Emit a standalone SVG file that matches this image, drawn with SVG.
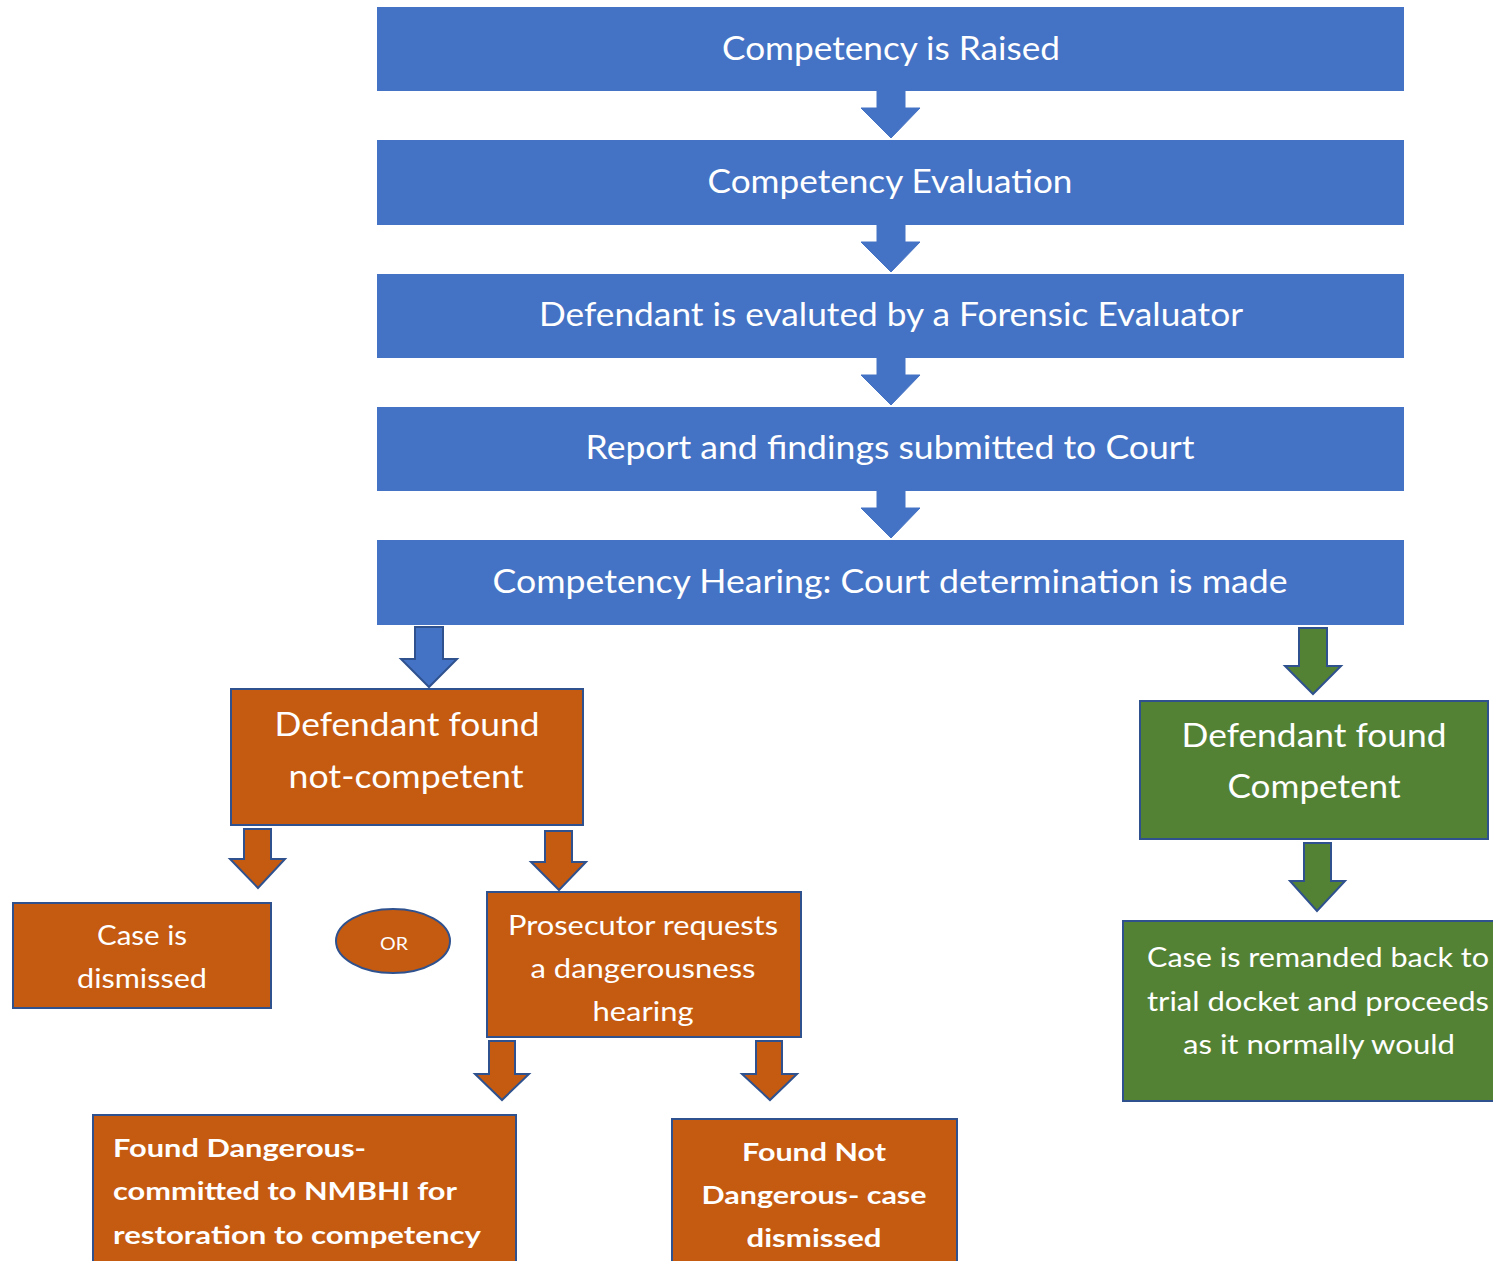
<svg xmlns="http://www.w3.org/2000/svg" width="1493" height="1261" viewBox="0 0 1493 1261">
<style>
.blue{fill:#4472C4}
.orange{fill:#C55A11;stroke:#2F528F;stroke-width:2}
.green{fill:#548235;stroke:#2F528F;stroke-width:2}
.ab{fill:#4472C4;stroke:#4472C4;stroke-width:1}
.ab2{fill:#4472C4;stroke:#2F528F;stroke-width:2}
.ao{fill:#C55A11;stroke:#2F528F;stroke-width:2}
.ag{fill:#548235;stroke:#2F528F;stroke-width:2}
text{font-family:Lato,"Open Sans","Liberation Sans",sans-serif;fill:#fff;text-anchor:middle}
.t1{font-size:32px}
.t2{font-size:26px}
.tb{font-size:25px;font-weight:bold}
.tl{text-anchor:start}
</style>
<rect width="1493" height="1261" fill="#fff"/>
<g id="connectors">
<polygon class="ab" points="877,91 905,91 905,108 920,108 891,138 861,108 877,108"/>
<polygon class="ab" points="877,225 905,225 905,242 920,242 891,272 861,242 877,242"/>
<polygon class="ab" points="877,358 905,358 905,375 920,375 891,405 861,375 877,375"/>
<polygon class="ab" points="877,491 905,491 905,508 920,508 891,538 861,508 877,508"/>
<polygon class="ab2" points="415,627 443,627 443,659 457,659 429,687 401,659 415,659"/>
<polygon class="ag" points="1299,628 1327,628 1327,666 1341,666 1313,694 1285,666 1299,666"/>
<polygon class="ag" points="1304,843 1331,843 1331,881 1345,881 1317,911 1290,881 1304,881"/>
<polygon class="ao" points="244,829 271,829 271,859 285,859 258,888 230,859 244,859"/>
<polygon class="ao" points="545,831 572,831 572,862 586,862 559,890 531,862 545,862"/>
<polygon class="ao" points="489,1041 515,1041 515,1074 529,1074 502,1100 475,1074 489,1074"/>
<polygon class="ao" points="756,1041 782,1041 782,1074 797,1074 770,1100 742,1074 756,1074"/>
</g>
<g id="n1"><rect class="blue" x="377" y="7" width="1027" height="84"/><text class="t1" x="891" y="60" textLength="338" lengthAdjust="spacingAndGlyphs">Competency is Raised</text></g>
<g id="n2"><rect class="blue" x="377" y="140" width="1027" height="85"/><text class="t1" x="890" y="193" textLength="365" lengthAdjust="spacingAndGlyphs">Competency Evaluation</text></g>
<g id="n3"><rect class="blue" x="377" y="274" width="1027" height="84"/><text class="t1" x="891" y="326" textLength="704" lengthAdjust="spacingAndGlyphs">Defendant is evaluted by a Forensic Evaluator</text></g>
<g id="n4"><rect class="blue" x="377" y="407" width="1027" height="84"/><text class="t1" x="890" y="459" textLength="609" lengthAdjust="spacingAndGlyphs">Report and findings submitted to Court</text></g>
<g id="n5"><rect class="blue" x="377" y="540" width="1027" height="85"/><text class="t1" x="890" y="593" textLength="795" lengthAdjust="spacingAndGlyphs">Competency Hearing: Court determination is made</text></g>
<g id="n6"><rect class="orange" x="231" y="689" width="352" height="136"/><text class="t1" x="407" y="736" textLength="265" lengthAdjust="spacingAndGlyphs">Defendant found</text><text class="t1" x="406" y="788" textLength="235" lengthAdjust="spacingAndGlyphs">not-competent</text></g>
<g id="n7"><rect class="green" x="1140" y="701" width="348" height="138"/><text class="t1" x="1314" y="747" textLength="265" lengthAdjust="spacingAndGlyphs">Defendant found</text><text class="t1" x="1314" y="798" textLength="173" lengthAdjust="spacingAndGlyphs">Competent</text></g>
<g id="n8"><rect class="green" x="1123" y="921" width="375" height="180"/><text class="t2" x="1318" y="967" textLength="342" lengthAdjust="spacingAndGlyphs">Case is remanded back to</text><text class="t2" x="1318" y="1011" textLength="342" lengthAdjust="spacingAndGlyphs">trial docket and proceeds</text><text class="t2" x="1319" y="1054" textLength="272" lengthAdjust="spacingAndGlyphs">as it normally would</text></g>
<g id="n9"><rect class="orange" x="13" y="903" width="258" height="105"/><text class="t2" x="142" y="945" textLength="90" lengthAdjust="spacingAndGlyphs">Case is</text><text class="t2" x="142" y="988" textLength="130" lengthAdjust="spacingAndGlyphs">dismissed</text></g>
<g id="n10"><ellipse class="orange" cx="393" cy="941" rx="57" ry="32"/><text x="394" y="950" style="font-size:18px" textLength="28" lengthAdjust="spacingAndGlyphs">OR</text></g>
<g id="n11"><rect class="orange" x="487" y="892" width="314" height="145"/><text class="t2" x="643" y="935" textLength="270" lengthAdjust="spacingAndGlyphs">Prosecutor requests</text><text class="t2" x="643" y="978" textLength="225" lengthAdjust="spacingAndGlyphs">a dangerousness</text><text class="t2" x="643" y="1021" textLength="101" lengthAdjust="spacingAndGlyphs">hearing</text></g>
<g id="n12"><rect class="orange" x="93" y="1115" width="423" height="150"/><text class="tb tl" x="113" y="1157" textLength="253" lengthAdjust="spacingAndGlyphs">Found Dangerous-</text><text class="tb tl" x="113" y="1200" textLength="344" lengthAdjust="spacingAndGlyphs">committed to NMBHI for</text><text class="tb tl" x="113" y="1244" textLength="368" lengthAdjust="spacingAndGlyphs">restoration to competency</text></g>
<g id="n13"><rect class="orange" x="672" y="1119" width="285" height="146"/><text class="tb" x="814" y="1161" textLength="144" lengthAdjust="spacingAndGlyphs">Found Not</text><text class="tb" x="814" y="1204" textLength="225" lengthAdjust="spacingAndGlyphs">Dangerous- case</text><text class="tb" x="814" y="1247" textLength="135" lengthAdjust="spacingAndGlyphs">dismissed</text></g>
</svg>
